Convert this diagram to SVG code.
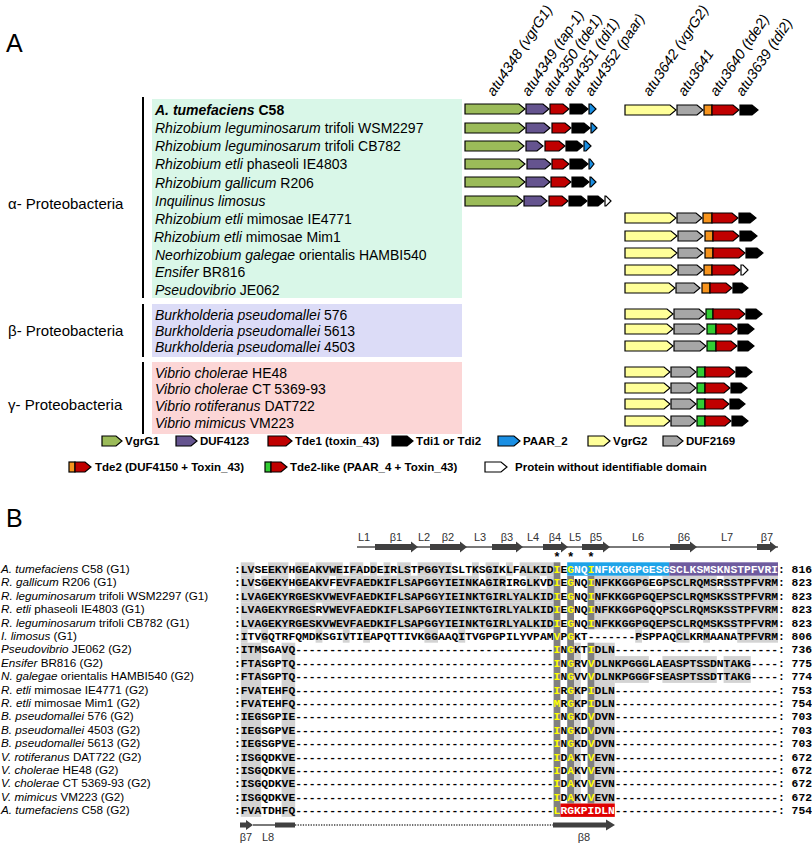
<svg xmlns="http://www.w3.org/2000/svg" width="812" height="845" viewBox="0 0 812 845">
<style>
svg{font-family:"Liberation Sans",Arial,sans-serif}
.pl{font-size:25px}
.grp{font-size:15px}
.sp{font-size:14px;font-style:italic}
.n{font-style:normal}
.gl{font-size:14.5px;font-style:italic}
.lg{font-size:11.5px;font-weight:bold}
.ar{stroke:#000;stroke-width:1.2;stroke-linejoin:miter}
.cg{fill:#9bbb59}.cp{fill:#65548f}.cr{fill:#c00000}.ck{fill:#000}.cb{fill:#1a8fe3}.cw{fill:#fff}
.cy{fill:#ffff99}.cgr{fill:#a6a6a6}.co{fill:#f7941d}.cl{fill:#33cc33}
.lab{font-size:11.7px}
.aln{font-family:"Liberation Mono","Courier New",monospace;font-size:11.333px;font-weight:bold}
.yl{fill:#ffff00}.wt{fill:#fff}
.lgr{fill:#d3d3d3}.dgr{fill:#808080}
.ss{font-size:11px;fill:#333}
</style>

<g id="panelA">
<text class="pl" x="6" y="52">A</text>

<g id="backgrounds">
<rect x="152" y="99" width="310" height="199" fill="#d9f7e8"/>
<rect x="152" y="304" width="310" height="53" fill="#dcdcf7"/>
<rect x="152" y="362" width="310" height="72" fill="#fcd6d6"/>
<rect x="142" y="97" width="2" height="201" fill="#000"/>
<rect x="142" y="304" width="2" height="53" fill="#000"/>
<rect x="142" y="362" width="2" height="72" fill="#000"/>
</g>

<g id="group-labels">
<text class="grp" x="8" y="209">α- Proteobacteria</text>
<text class="grp" x="8" y="336">β- Proteobacteria</text>
<text class="grp" x="8" y="410">γ- Proteobacteria</text>
</g>

<g id="species" class="sp" xml:space="preserve">
<text x="155" y="115" font-weight="bold">A. tumefaciens<tspan class="n"> C58</tspan></text>
<text x="155" y="133">Rhizobium leguminosarum<tspan class="n"> trifoli WSM2297</tspan></text>
<text x="155" y="151">Rhizobium leguminosarum<tspan class="n"> trifoli CB782</tspan></text>
<text x="155" y="169">Rhizobium etli<tspan class="n"> phaseoli IE4803</tspan></text>
<text x="155" y="188">Rhizobium gallicum<tspan class="n">  R206</tspan></text>
<text x="155" y="206">Inquilinus limosus</text>
<text x="155" y="224">Rhizobium etli<tspan class="n"> mimosae IE4771</tspan></text>
<text x="154" y="242">Rhizobium etli<tspan class="n"> mimosae Mim1</tspan></text>
<text x="155" y="260">Neorhizobium galegae<tspan class="n"> orientalis HAMBI540</tspan></text>
<text x="155" y="277">Ensifer<tspan class="n">  BR816</tspan></text>
<text x="155" y="295">Pseudovibrio<tspan class="n"> JE062</tspan></text>
<text x="155" y="320">Burkholderia pseudomallei<tspan class="n"> 576</tspan></text>
<text x="155" y="336">Burkholderia pseudomallei<tspan class="n"> 5613</tspan></text>
<text x="155" y="352">Burkholderia pseudomallei<tspan class="n"> 4503</tspan></text>
<text x="155" y="378">Vibrio cholerae<tspan class="n"> HE48</tspan></text>
<text x="155" y="394">Vibrio cholerae<tspan class="n"> CT 5369-93</tspan></text>
<text x="155" y="411">Vibrio rotiferanus<tspan class="n"> DAT722</tspan></text>
<text x="155" y="428">Vibrio mimicus<tspan class="n"> VM223</tspan></text>
</g>

<g id="gene-labels" class="gl">
<text transform="translate(494,97) rotate(-56)">atu4348 (vgrG1)</text>
<text transform="translate(529,97) rotate(-56)">atu4349 (tap-1)</text>
<text transform="translate(550,97) rotate(-56)">atu4350 (tde1)</text>
<text transform="translate(570,97) rotate(-56)">atu4351 (tdi1)</text>
<text transform="translate(592,97) rotate(-56)">atu4352 (paar)</text>
<text transform="translate(650,97) rotate(-56)">atu3642 (vgrG2)</text>
<text transform="translate(685,97) rotate(-56)">atu3641</text>
<text transform="translate(717,97) rotate(-56)">atu3640 (tde2)</text>
<text transform="translate(743,97) rotate(-56)">atu3639 (tdi2)</text>
</g>

<g id="cluster1" class="ar">
<path class="cg" d="M465,104H519L525,109L519,114H465Z"/>
<path class="cp" d="M526,104H543L549,109L543,114H526Z"/>
<path class="cr" d="M550,104H563L569,109L563,114H550Z"/>
<path class="ck" d="M570,104H582L588,109L582,114H570Z"/>
<path class="cb" d="M589,104H591L596,109L591,114H589Z"/>
<path class="cg" d="M465,123H519L525,128L519,133H465Z"/>
<path class="cp" d="M526,123H544L550,128L544,133H526Z"/>
<path class="cr" d="M552,123H565L571,128L565,133H552Z"/>
<path class="ck" d="M572,123H584L590,128L584,133H572Z"/>
<path class="cb" d="M591,123H592L597,128L592,133H591Z"/>
<path class="cg" d="M465,141H518L524,146L518,151H465Z"/>
<path class="cp" d="M526,141H537L543,146L537,151H526Z"/>
<path class="cr" d="M545,141H559L565,146L559,151H545Z"/>
<path class="ck" d="M566,141H577L583,146L577,151H566Z"/>
<path class="cb" d="M584,141H586L591,146L586,151H584Z"/>
<path class="cg" d="M465,159H519L525,164L519,169H465Z"/>
<path class="cp" d="M527,159H545L551,164L545,169H527Z"/>
<path class="cr" d="M552,159H563L569,164L563,169H552Z"/>
<path class="ck" d="M570,159H582L588,164L582,169H570Z"/>
<path class="cb" d="M589,159H590L594,164L590,169H589Z"/>
<path class="cg" d="M465,177H519L525,182L519,187H465Z"/>
<path class="cp" d="M526,177H544L550,182L544,187H526Z"/>
<path class="cr" d="M551,177H565L571,182L565,187H551Z"/>
<path class="ck" d="M572,177H583L589,182L583,187H572Z"/>
<path class="cb" d="M590,177H591L596,182L591,187H590Z"/>
<path class="cg" d="M465,196H517L523,201L517,206H465Z"/>
<path class="cp" d="M524,196H541L547,201L541,206H524Z"/>
<path class="cr" d="M549,196H562L568,201L562,206H549Z"/>
<path class="ck" d="M569,196H581L587,201L581,206H569Z"/>
<path class="ck" d="M588,196H598L604,201L598,206H588Z"/>
<path class="cw" d="M605,196H606L611,201L606,206H605Z"/>
</g>

<g id="cluster2" class="ar">
<path class="cy" d="M625,105H670L676,110L670,115H625Z"/>
<path class="cgr" d="M677,105H697L703,110L697,115H677Z"/>
<rect class="co" x="704" y="105" width="8" height="10"/>
<path class="cr" d="M712,105H733L739,110L733,115H712Z"/>
<path class="ck" d="M740,105H752L758,110L752,115H740Z"/>

<path class="cy" d="M625,213H670L676,218L670,223H625Z"/>
<path class="cgr" d="M677,213H696L702,218L696,223H677Z"/>
<rect class="co" x="703" y="213" width="9" height="10"/>
<path class="cr" d="M712,213H732L738,218L732,223H712Z"/>
<path class="ck" d="M739,213H750L756,218L750,223H739Z"/>

<path class="cy" d="M625,231H671L677,236L671,241H625Z"/>
<path class="cgr" d="M678,231H697L703,236L697,241H678Z"/>
<rect class="co" x="705" y="231" width="8" height="10"/>
<path class="cr" d="M713,231H733L739,236L733,241H713Z"/>
<path class="ck" d="M740,231H751L757,236L751,241H740Z"/>

<path class="cy" d="M625,248H671L677,253L671,258H625Z"/>
<path class="cgr" d="M678,248H697L703,253L697,258H678Z"/>
<rect class="co" x="705" y="248" width="8" height="10"/>
<path class="cr" d="M713,248H739L745,253L739,258H713Z"/>
<path class="ck" d="M746,248H757L763,253L757,258H746Z"/>

<path class="cy" d="M625,265H671L677,270L671,275H625Z"/>
<path class="cgr" d="M678,265H697L703,270L697,275H678Z"/>
<rect class="co" x="704" y="265" width="8" height="10"/>
<path class="cr" d="M712,265H734L740,270L734,275H712Z"/>
<path class="cw" d="M741,265H743L748,270L743,275H741Z"/>

<path class="cy" d="M625,283H669L675,288L669,293H625Z"/>
<path class="cgr" d="M676,283H694L700,288L694,293H676Z"/>
<rect class="co" x="702" y="283" width="8" height="10"/>
<path class="cr" d="M710,283H726L732,288L726,293H710Z"/>
<path class="ck" d="M733,283H742L748,288L742,293H733Z"/>

<path class="cy" d="M625,309H667L673,314L667,319H625Z"/>
<path class="cgr" d="M674,309H699L705,314L699,319H674Z"/>
<rect class="cl" x="706" y="309" width="7" height="10"/>
<path class="cr" d="M713,309H739L745,314L739,319H713Z"/>
<path class="ck" d="M746,309H756L762,314L756,319H746Z"/>

<path class="cy" d="M625,324H667L673,329L667,334H625Z"/>
<path class="cgr" d="M674,324H699L705,329L699,334H674Z"/>
<rect class="cl" x="707" y="324" width="9" height="10"/>
<path class="cr" d="M716,324H731L737,329L731,334H716Z"/>
<path class="ck" d="M738,324H748L754,329L748,334H738Z"/>

<path class="cy" d="M625,341H667L673,346L667,351H625Z"/>
<path class="cgr" d="M674,341H700L706,346L700,351H674Z"/>
<rect class="cl" x="707" y="341" width="9" height="10"/>
<path class="cr" d="M716,341H731L737,346L731,351H716Z"/>
<path class="ck" d="M738,341H748L754,346L748,351H738Z"/>

<path class="cy" d="M625,367H664L670,372L664,377H625Z"/>
<path class="cgr" d="M671,367H690L696,372L690,377H671Z"/>
<rect class="cl" x="697" y="367" width="8" height="10"/>
<path class="cr" d="M705,367H729L735,372L729,377H705Z"/>
<path class="ck" d="M736,367H746L752,372L746,377H736Z"/>

<path class="cy" d="M625,383H664L670,388L664,393H625Z"/>
<path class="cgr" d="M671,383H690L696,388L690,393H671Z"/>
<rect class="cl" x="697" y="383" width="8" height="10"/>
<path class="cr" d="M705,383H724L730,388L724,393H705Z"/>
<path class="ck" d="M731,383H741L747,388L741,393H731Z"/>

<path class="cy" d="M625,399H664L670,404L664,409H625Z"/>
<path class="cgr" d="M671,399H690L696,404L690,409H671Z"/>
<rect class="cl" x="697" y="399" width="8" height="10"/>
<path class="cr" d="M705,399H723L729,404L723,409H705Z"/>
<path class="ck" d="M730,399H739L745,404L739,409H730Z"/>

<path class="cy" d="M625,416H664L670,421L664,426H625Z"/>
<path class="cgr" d="M671,416H690L696,421L690,426H671Z"/>
<rect class="cl" x="697" y="416" width="8" height="10"/>
<path class="cr" d="M705,416H725L731,421L725,426H705Z"/>
<path class="ck" d="M732,416H742L748,421L742,426H732Z"/>
</g>

<g id="legend">
<g class="ar">
<path class="cg" d="M102,436H116L122,441L116,446H102Z"/>
<path class="cp" d="M176,436H191L197,441L191,446H176Z"/>
<path class="cr" d="M268,436H286L292,441L286,446H268Z"/>
<path class="ck" d="M392,436H407L413,441L407,446H392Z"/>
<path class="cb" d="M498,436H514L520,441L514,446H498Z"/>
<path class="cy" d="M588,436H604L610,441L604,446H588Z"/>
<path class="cgr" d="M663,436H677L683,441L677,446H663Z"/>
<rect class="co" x="69" y="462" width="6" height="10"/>
<path class="cr" d="M75,462H85L91,467L85,472H75Z"/>
<rect class="cl" x="265" y="462" width="6" height="10"/>
<path class="cr" d="M271,462H281L287,467L281,472H271Z"/>
<path class="cw" d="M485,462H501L507,467L501,472H485Z"/>
</g>
<g class="lg">
<text x="125" y="445">VgrG1</text>
<text x="200" y="445">DUF4123</text>
<text x="295" y="445">Tde1 (toxin_43)</text>
<text x="416" y="445">Tdi1 or Tdi2</text>
<text x="523" y="445">PAAR_2</text>
<text x="613" y="445">VgrG2</text>
<text x="686" y="445">DUF2169</text>
<text x="95" y="471">Tde2 (DUF4150 + Toxin_43)</text>
<text x="290" y="471">Tde2-like (PAAR_4 + Toxin_43)</text>
<text x="515" y="471">Protein without identifiable domain</text>
</g>
</g>
</g>

<g id="panelB">
<text class="pl" x="6" y="527">B</text>

<g id="secondary-structure" fill="#404040" stroke="none">
<rect x="357" y="546.3" width="421" height="1.4"/>
<path d="M375,544H411V541.5L418,547L411,552.5V550H375Z"/>
<path d="M430,544H460V541.5L467,547L460,552.5V550H430Z"/>
<path d="M492,544H516V541.5L523,547L516,552.5V550H492Z"/>
<path d="M543,544H561V541.5L568,547L561,552.5V550H543Z"/>
<path d="M582,544H603V541.5L610,547L603,552.5V550H582Z"/>
<path d="M670,544H690V541.5L697,547L690,552.5V550H670Z"/>
<path d="M757,544H770V541.5L777,547L770,552.5V550H757Z"/>
<g class="ss" text-anchor="middle">
<text x="364" y="541">L1</text><text x="396" y="541">β1</text><text x="424" y="541">L2</text><text x="448" y="541">β2</text>
<text x="480" y="541">L3</text><text x="507" y="541">β3</text><text x="533" y="541">L4</text><text x="555" y="541">β4</text>
<text x="575" y="541">L5</text><text x="596" y="541">β5</text><text x="638" y="541">L6</text><text x="684" y="541">β6</text>
<text x="727" y="541">L7</text><text x="767" y="541">β7</text>
</g>
<path d="M240,822.5H246V820L253,825L246,830V827.5H240Z"/>
<rect x="253" y="824.3" width="22" height="1.4"/>
<rect x="275" y="822.5" width="20" height="5"/>
<line x1="295" y1="825" x2="553" y2="825" stroke="#404040" stroke-width="1.3" stroke-dasharray="1.3,1.3"/>
<path d="M553,822.5H606V819.5L615,825L606,830.5V827.5H553Z"/>
<g class="ss" text-anchor="middle">
<text x="246" y="841">β7</text><text x="268" y="841">L8</text><text x="584" y="841">β8</text>
</g>
</g>

<g id="stars" font-size="12.5" font-weight="bold" text-anchor="middle">
<text x="557" y="560.5">*</text><text x="570.6" y="560.5">*</text><text x="591" y="560.5">*</text>
</g>

<g id="shading">
<g class="lgr">
<rect x="240.8" y="562.3" width="13.6" height="13.4"/><rect x="268" y="562.3" width="20.4" height="13.4"/><rect x="295.2" y="562.3" width="13.6" height="13.4"/><rect x="315.6" y="562.3" width="27.2" height="13.4"/><rect x="349.6" y="562.3" width="13.6" height="13.4"/><rect x="370" y="562.3" width="6.8" height="13.4"/><rect x="383.6" y="562.3" width="6.8" height="13.4"/><rect x="397.2" y="562.3" width="13.6" height="13.4"/><rect x="417.6" y="562.3" width="34" height="13.4"/><rect x="472" y="562.3" width="6.8" height="13.4"/><rect x="485.6" y="562.3" width="13.6" height="13.4"/><rect x="506" y="562.3" width="6.8" height="13.4"/><rect x="519.6" y="562.3" width="34" height="13.4"/>
<rect x="240.8" y="575.7" width="13.6" height="13.4"/><rect x="261.2" y="575.7" width="27.2" height="13.4"/><rect x="295.2" y="575.7" width="13.6" height="13.4"/><rect x="315.6" y="575.7" width="13.6" height="13.4"/><rect x="336" y="575.7" width="142.8" height="13.4"/><rect x="485.6" y="575.7" width="20.4" height="13.4"/><rect x="526.4" y="575.7" width="13.6" height="13.4"/><rect x="546.8" y="575.7" width="6.8" height="13.4"/><rect x="594.4" y="575.7" width="54.4" height="13.4"/><rect x="662.4" y="575.7" width="54.4" height="13.4"/><rect x="723.6" y="575.7" width="54.4" height="13.4"/>
<rect x="240.8" y="589.1" width="312.8" height="13.4"/><rect x="594.4" y="589.1" width="183.6" height="13.4"/>
<rect x="240.8" y="602.5" width="74.8" height="13.4"/><rect x="322.4" y="602.5" width="231.2" height="13.4"/><rect x="594.4" y="602.5" width="61.2" height="13.4"/><rect x="662.4" y="602.5" width="115.6" height="13.4"/>
<rect x="240.8" y="615.9" width="312.8" height="13.4"/><rect x="594.4" y="615.9" width="183.6" height="13.4"/>
<rect x="240.8" y="629.3" width="6.8" height="13.4"/><rect x="261.2" y="629.3" width="6.8" height="13.4"/><rect x="315.6" y="629.3" width="6.8" height="13.4"/><rect x="342.8" y="629.3" width="6.8" height="13.4"/><rect x="363.2" y="629.3" width="6.8" height="13.4"/><rect x="424.4" y="629.3" width="13.6" height="13.4"/><rect x="458.4" y="629.3" width="6.8" height="13.4"/><rect x="635.2" y="629.3" width="6.8" height="13.4"/><rect x="676" y="629.3" width="13.6" height="13.4"/><rect x="703.2" y="629.3" width="6.8" height="13.4"/><rect x="737.2" y="629.3" width="40.8" height="13.4"/>
<rect x="240.8" y="642.7" width="20.4" height="174.2"/>
<rect x="281.6" y="642.7" width="13.6" height="174.2"/>
<rect x="574" y="642.7" width="6.8" height="160.8"/>
<rect x="594.4" y="642.7" width="20.4" height="160.8"/>
<rect x="614.8" y="656.1" width="34" height="26.8"/><rect x="662.4" y="656.1" width="54.4" height="26.8"/><rect x="723.6" y="656.1" width="27.2" height="26.8"/>
</g>
<g class="dgr">
<rect x="553.6" y="562.3" width="6.8" height="254.6"/>
<rect x="567.2" y="575.7" width="6.8" height="227.8"/>
<rect x="587.6" y="575.7" width="6.8" height="53.6"/>
<rect x="587.6" y="642.7" width="6.8" height="160.8"/>
</g>
<rect x="567.2" y="562.3" width="102" height="13.4" fill="#1fa3e8"/>
<rect x="669.2" y="562.3" width="108.8" height="13.4" fill="#6e5b9e"/>
<rect x="560.4" y="803.5" width="54.4" height="13.4" fill="#e00000"/>
</g>

<g id="row-labels" class="lab" xml:space="preserve">
<text x="1" y="573"><tspan font-style="italic">A. tumefaciens</tspan> C58 (G1)</text>
<text x="1" y="586.4"><tspan font-style="italic">R. gallicum</tspan> R206 (G1)</text>
<text x="1" y="599.8"><tspan font-style="italic">R. leguminosarum</tspan> trifoli WSM2297 (G1)</text>
<text x="1" y="613.2"><tspan font-style="italic">R. etli</tspan> phaseoli IE4803 (G1)</text>
<text x="1" y="626.6"><tspan font-style="italic">R. leguminosarum</tspan> trifoli CB782 (G1)</text>
<text x="1" y="640"><tspan font-style="italic">I. limosus</tspan> (G1)</text>
<text x="1" y="653.4"><tspan font-style="italic">Pseudovibrio</tspan> JE062 (G2)</text>
<text x="1" y="666.8"><tspan font-style="italic">Ensifer</tspan>  BR816 (G2)</text>
<text x="1" y="680.2"><tspan font-style="italic">N. galegae</tspan> orientalis HAMBI540 (G2)</text>
<text x="1" y="693.6"><tspan font-style="italic">R. etli</tspan> mimosae IE4771 (G2)</text>
<text x="1" y="707"><tspan font-style="italic">R. etli</tspan> mimosae Mim1 (G2)</text>
<text x="1" y="720.4"><tspan font-style="italic">B. pseudomallei</tspan> 576 (G2)</text>
<text x="1" y="733.8"><tspan font-style="italic">B. pseudomallei</tspan> 4503 (G2)</text>
<text x="1" y="747.2"><tspan font-style="italic">B. pseudomallei</tspan> 5613 (G2)</text>
<text x="1" y="760.6"><tspan font-style="italic">V. rotiferanus</tspan> DAT722 (G2)</text>
<text x="1" y="774"><tspan font-style="italic">V. cholerae</tspan> HE48 (G2)</text>
<text x="1" y="787.4"><tspan font-style="italic">V. cholerae</tspan> CT 5369-93 (G2)</text>
<text x="1" y="800.8"><tspan font-style="italic">V. mimicus</tspan> VM223 (G2)</text>
<text x="1" y="814.2"><tspan font-style="italic">A. tumefaciens</tspan> C58 (G2)</text>
</g>

<g id="alignment" class="aln">
<text y="573"><tspan x="234">:LVSEEKYHGEAKVWEIFADDEIRLSTPGGYISLTKSGIKLFALKID</tspan><tspan x="553.6" class="yl">I</tspan><tspan>E</tspan><tspan class="yl">G</tspan><tspan class="wt">NQ</tspan><tspan class="yl">I</tspan><tspan class="wt">NFKKGGPGESGSCLKSMSKNSTPFVRI</tspan><tspan x="778">: 816</tspan></text>
<text y="586.4"><tspan x="234">:LVSGEKYHGEAKVFEVFAEDKIFLSAPGGYIEINKAGIRIRGLKVD</tspan><tspan x="553.6" class="yl">I</tspan><tspan>E</tspan><tspan class="yl">G</tspan><tspan>NQ</tspan><tspan class="yl">I</tspan><tspan>NFKKGGPGEGPSCLRQMSRSSTPFVRM</tspan><tspan x="778">: 823</tspan></text>
<text y="599.8"><tspan x="234">:LVAGEKYRGESKVWEVFAEDKIFLSAPGGYIEINKTGIRLYALKID</tspan><tspan x="553.6" class="yl">I</tspan><tspan>E</tspan><tspan class="yl">G</tspan><tspan>NQ</tspan><tspan class="yl">I</tspan><tspan>NFKKGGPGQEPSCLRQMSKSSTPFVRM</tspan><tspan x="778">: 823</tspan></text>
<text y="613.2"><tspan x="234">:LVAGEKYRGESRVWEVFAEDKIFLSAPGGYIEINKTGIRLYALKID</tspan><tspan x="553.6" class="yl">I</tspan><tspan>E</tspan><tspan class="yl">G</tspan><tspan>NQ</tspan><tspan class="yl">I</tspan><tspan>NFKKGGPGQQPSCLRQMSKSSTPFVRM</tspan><tspan x="778">: 823</tspan></text>
<text y="626.6"><tspan x="234">:LVAGEKYRGESKVWEVFAEDKIFLSAPGGYIEINKTGIRLYALKID</tspan><tspan x="553.6" class="yl">I</tspan><tspan>E</tspan><tspan class="yl">G</tspan><tspan>NQ</tspan><tspan class="yl">I</tspan><tspan>NFKKGGPGQEPSCLRQMSKSSTPFVRM</tspan><tspan x="778">: 823</tspan></text>
<text y="640"><tspan x="234">:ITVGQTRFQMDKSGIVTIEAPQTTIVKGGAAQITVGPGPILYVPAM</tspan><tspan x="553.6" class="yl">V</tspan><tspan>P</tspan><tspan class="yl">G</tspan><tspan>KT-</tspan><tspan x="594.4">------PSPPAQCLKRMAANATPFVRM</tspan><tspan x="778">: 806</tspan></text>
<text y="653.4"><tspan x="234">:ITMSGAVQ--------------------------------------</tspan><tspan x="553.6" class="yl">I</tspan><tspan>N</tspan><tspan class="yl">G</tspan><tspan>KT</tspan><tspan class="yl">I</tspan><tspan>DLN------------------------</tspan><tspan x="778">: 736</tspan></text>
<text y="666.8"><tspan x="234">:FTASGPTQ--------------------------------------</tspan><tspan x="553.6" class="yl">I</tspan><tspan>N</tspan><tspan class="yl">G</tspan><tspan>RV</tspan><tspan class="yl">V</tspan><tspan>DLNKPGGGLAEASPTSSDNTAKG----</tspan><tspan x="778">: 775</tspan></text>
<text y="680.2"><tspan x="234">:FTASGPTQ--------------------------------------</tspan><tspan x="553.6" class="yl">I</tspan><tspan>N</tspan><tspan class="yl">G</tspan><tspan>VV</tspan><tspan class="yl">V</tspan><tspan>DLNKPGGGFSEASPTSSDTTAKG----</tspan><tspan x="778">: 774</tspan></text>
<text y="693.6"><tspan x="234">:FVATEHFQ--------------------------------------</tspan><tspan x="553.6" class="yl">I</tspan><tspan>R</tspan><tspan class="yl">G</tspan><tspan>KP</tspan><tspan class="yl">I</tspan><tspan>DLN------------------------</tspan><tspan x="778">: 753</tspan></text>
<text y="707"><tspan x="234">:FVATEHFQ--------------------------------------</tspan><tspan x="553.6" class="yl">M</tspan><tspan>R</tspan><tspan class="yl">G</tspan><tspan>KP</tspan><tspan class="yl">I</tspan><tspan>DLN------------------------</tspan><tspan x="778">: 754</tspan></text>
<text y="720.4"><tspan x="234">:IEGSGPIE--------------------------------------</tspan><tspan x="553.6" class="yl">I</tspan><tspan>N</tspan><tspan class="yl">G</tspan><tspan>KD</tspan><tspan class="yl">V</tspan><tspan>DVN------------------------</tspan><tspan x="778">: 703</tspan></text>
<text y="733.8"><tspan x="234">:IEGSGPVE--------------------------------------</tspan><tspan x="553.6" class="yl">I</tspan><tspan>N</tspan><tspan class="yl">G</tspan><tspan>KD</tspan><tspan class="yl">V</tspan><tspan>DVN------------------------</tspan><tspan x="778">: 703</tspan></text>
<text y="747.2"><tspan x="234">:IEGSGPVE--------------------------------------</tspan><tspan x="553.6" class="yl">I</tspan><tspan>N</tspan><tspan class="yl">G</tspan><tspan>KD</tspan><tspan class="yl">V</tspan><tspan>DVN------------------------</tspan><tspan x="778">: 703</tspan></text>
<text y="760.6"><tspan x="234">:ISGQDKVE--------------------------------------</tspan><tspan x="553.6" class="yl">I</tspan><tspan>D</tspan><tspan class="yl">A</tspan><tspan>KT</tspan><tspan class="yl">V</tspan><tspan>EVN------------------------</tspan><tspan x="778">: 672</tspan></text>
<text y="774"><tspan x="234">:ISGQDKVE--------------------------------------</tspan><tspan x="553.6" class="yl">I</tspan><tspan>D</tspan><tspan class="yl">A</tspan><tspan>KV</tspan><tspan class="yl">V</tspan><tspan>EVN------------------------</tspan><tspan x="778">: 672</tspan></text>
<text y="787.4"><tspan x="234">:ISGQDKVE--------------------------------------</tspan><tspan x="553.6" class="yl">I</tspan><tspan>D</tspan><tspan class="yl">A</tspan><tspan>KV</tspan><tspan class="yl">V</tspan><tspan>EVN------------------------</tspan><tspan x="778">: 672</tspan></text>
<text y="800.8"><tspan x="234">:ISGQDKVE--------------------------------------</tspan><tspan x="553.6" class="yl">I</tspan><tspan>D</tspan><tspan class="yl">A</tspan><tspan>KV</tspan><tspan class="yl">V</tspan><tspan>EVN------------------------</tspan><tspan x="778">: 672</tspan></text>
<text y="814.2"><tspan x="234">:FVATDHFQ--------------------------------------</tspan><tspan x="553.6" class="yl">L</tspan><tspan class="wt">RGKPIDLN</tspan><tspan>------------------------</tspan><tspan x="778">: 754</tspan></text>
</g>
</g>
</svg>
